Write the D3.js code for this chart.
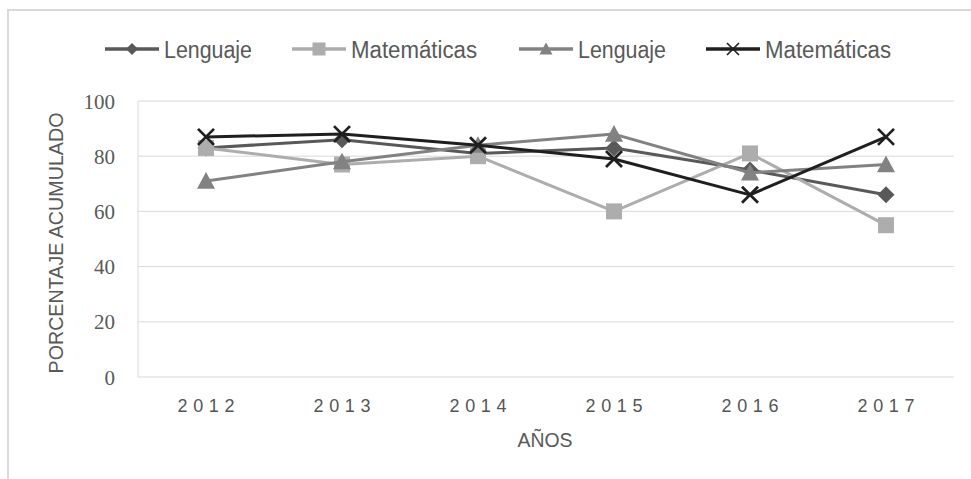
<!DOCTYPE html>
<html>
<head>
<meta charset="utf-8">
<script src="https://cdn.jsdelivr.net/npm/d3@7"></script>
<style>
  html, body { margin: 0; padding: 0; background: #fff; }
  svg { display: block; }
</style>
</head>
<body>
<svg id="chart" width="971" height="479"></svg>
<script>
// Years on the category axis
const years = ["2012", "2013", "2014", "2015", "2016", "2017"];

// Accumulated percentage per series
const lenguajeA    = [83, 86, 81, 83, 75, 66];
const matematicasA = [83, 77, 80, 60, 81, 55];
const lenguajeB    = [71, 78, 84, 88, 74, 77];
const matematicasB = [87, 88, 84, 79, 66, 87];

const seriesNames = ["Lenguaje", "Matemáticas", "Lenguaje", "Matemáticas"];
const yTicks = [0, 20, 40, 60, 80, 100];

const seriesValues = [lenguajeA, matematicasA, lenguajeB, matematicasB];
const colors = ["#595959", "#adadad", "#828282", "#1f1f1f"];
const shapes = ["diamond", "square", "triangle", "cross"];

const svg = d3.select("#chart");
const plot = { left: 138, right: 954, top: 101, bottom: 377 };

const x = d3.scaleBand().domain(years).range([plot.left, plot.right]);
const y = d3.scaleLinear().domain([0, 100]).range([plot.bottom, plot.top]);
const cx = d => x(d) + x.bandwidth() / 2;

// Outer chart frame
svg.append("path")
  .attr("d", "M8,490 L8,10 L980,10")
  .attr("fill", "none")
  .attr("stroke", "#d9d9d9")
  .attr("stroke-width", 2);

// Horizontal gridlines
svg.append("g")
  .selectAll("line")
  .data(yTicks)
  .join("line")
  .attr("x1", plot.left).attr("x2", plot.right)
  .attr("y1", d => y(d)).attr("y2", d => y(d))
  .attr("stroke", "#d9d9d9").attr("stroke-width", 1);

// Plot area left edge
svg.append("line")
  .attr("x1", plot.left).attr("x2", plot.left)
  .attr("y1", y(100)).attr("y2", y(0))
  .attr("stroke", "#d9d9d9").attr("stroke-width", 1);

// Y axis tick labels
const yAxis = d3.axisLeft(y).tickValues(yTicks).tickSize(0).tickPadding(0);
const gy = svg.append("g").attr("transform", "translate(115,0)").call(yAxis);
gy.select(".domain").remove();
gy.selectAll("text")
  .attr("fill", "#595959")
  .attr("font-family", "'Liberation Serif', 'DejaVu Serif', serif")
  .attr("font-size", 21)
  .attr("dy", "0.34em");

// X axis tick labels
const xAxis = d3.axisBottom(x).tickSize(0).tickPadding(0);
const gx = svg.append("g").attr("transform", "translate(0,398)").call(xAxis);
gx.select(".domain").remove();
gx.selectAll("text")
  .attr("fill", "#555555")
  .attr("font-family", "'Liberation Sans', Arial, sans-serif")
  .attr("font-size", 18)
  .attr("dy", "0.8em")
  .attr("textLength", 57)
  .attr("lengthAdjust", "spacing");

// Axis titles
svg.append("text")
  .attr("x", 545).attr("y", 447)
  .attr("text-anchor", "middle")
  .attr("fill", "#595959")
  .attr("font-family", "'Liberation Sans', Arial, sans-serif")
  .attr("font-size", 20)
  .attr("textLength", 55)
  .attr("lengthAdjust", "spacingAndGlyphs")
  .text("AÑOS");

svg.append("text")
  .attr("transform", "translate(63,243) rotate(-90)")
  .attr("text-anchor", "middle")
  .attr("fill", "#595959")
  .attr("font-family", "'Liberation Sans', Arial, sans-serif")
  .attr("font-size", 19.5)
  .attr("textLength", 261)
  .attr("lengthAdjust", "spacingAndGlyphs")
  .text("PORCENTAJE ACUMULADO");

// Marker drawing
function marker(g, shape, color, s, sw) {
  if (shape === "diamond") {
    g.append("path").attr("d", `M0,${-s}L${s},0L0,${s}L${-s},0Z`).attr("fill", color);
  } else if (shape === "square") {
    g.append("rect").attr("x", -s).attr("y", -s).attr("width", 2 * s).attr("height", 2 * s).attr("fill", color);
  } else if (shape === "triangle") {
    g.append("path").attr("d", `M0,${-s}L${s},${s * 0.85}L${-s},${s * 0.85}Z`).attr("fill", color);
  } else {
    g.append("path").attr("d", `M${-s},${-s}L${s},${s}M${s},${-s}L${-s},${s}`)
      .attr("stroke", color).attr("stroke-width", sw).attr("fill", "none");
  }
}

const markerSize = { diamond: 8.5, square: 8, triangle: 9, cross: 8 };
const legendSize = { diamond: 6, square: 6.5, triangle: 6.5, cross: 6 };

// Series lines and markers
const line = d3.line().x((d, i) => cx(years[i])).y(d => y(d));
seriesValues.forEach((vals, si) => {
  const g = svg.append("g");
  g.append("path")
    .datum(vals)
    .attr("d", line)
    .attr("fill", "none")
    .attr("stroke", colors[si])
    .attr("stroke-width", 3)
    .attr("stroke-linejoin", "round");
  vals.forEach((v, i) => {
    const m = g.append("g").attr("transform", `translate(${cx(years[i])},${y(v)})`);
    marker(m, shapes[si], colors[si], markerSize[shapes[si]], 2.8);
  });
});

// Legend
const legendItems = [
  { x: 105, w: 88 },
  { x: 292, w: 126 },
  { x: 519, w: 88 },
  { x: 706, w: 126 }
];
const legendY = 49;
legendItems.forEach((it, i) => {
  const g = svg.append("g").attr("transform", `translate(${it.x},${legendY})`);
  g.append("line").attr("x1", 0).attr("x2", 54).attr("y1", 0).attr("y2", 0)
    .attr("stroke", colors[i]).attr("stroke-width", 3.5);
  const m = g.append("g").attr("transform", "translate(27,0)");
  marker(m, shapes[i], colors[i], legendSize[shapes[i]], 1.6);
  g.append("text")
    .attr("x", 59).attr("y", 9)
    .attr("fill", "#595959")
    .attr("font-family", "'Liberation Sans', Arial, sans-serif")
    .attr("font-size", 23)
    .attr("textLength", it.w)
    .attr("lengthAdjust", "spacingAndGlyphs")
    .text(seriesNames[i]);
});
</script>
</body>
</html>
